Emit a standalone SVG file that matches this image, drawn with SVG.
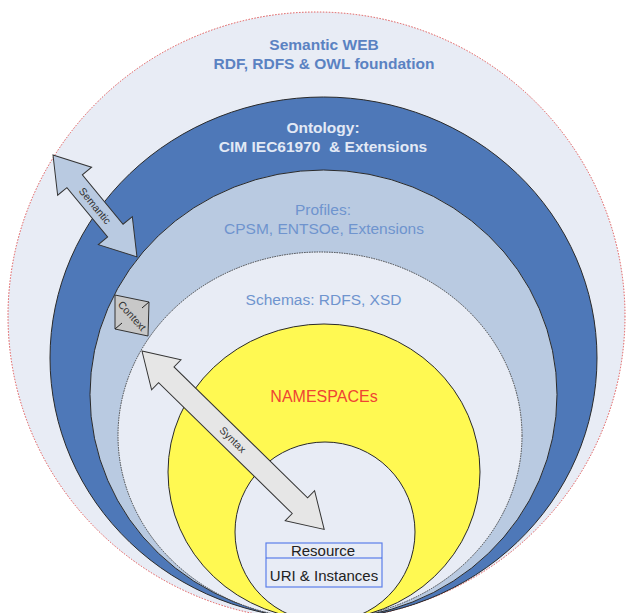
<svg xmlns="http://www.w3.org/2000/svg" width="626" height="613" viewBox="0 0 626 613">
<style>
.ring{stroke:#2a2a2a;stroke-width:1}
.t{font-family:"Liberation Sans",Arial,sans-serif;text-anchor:middle}
.title{font-size:15.5px;font-weight:bold;fill:#5A82C2}
.onto{font-size:15.5px;font-weight:bold;fill:#E2E9F5}
.prof{font-size:15.5px;fill:#6F94CE}
.ns{font-size:16px;fill:#EE4433}
.lbl{font-size:10.5px;fill:#333}
.box{font-size:15px;fill:#222}
.arrow{stroke:#333;stroke-width:1;stroke-linejoin:miter}
</style>
<rect width="626" height="613" fill="#ffffff"/>
<g id="semantic-web">
  <ellipse cx="316.5" cy="316" rx="308.5" ry="304" fill="#E8ECF5" stroke="#E05555" stroke-width="1" stroke-dasharray="1.5,1.5"/>
  <text class="t title" x="324" y="50">Semantic WEB</text>
  <text class="t title" x="324" y="69">RDF, RDFS &amp; OWL foundation</text>
</g>
<g id="ontology">
  <ellipse class="ring" cx="323.5" cy="358" rx="273.5" ry="261" fill="#4E78B8"/>
  <text class="t onto" x="323" y="133">Ontology:</text>
  <text class="t onto" x="323" y="152" style="white-space:pre">CIM IEC61970  &amp; Extensions</text>
</g>
<g id="profiles">
  <ellipse class="ring" cx="323.5" cy="394.5" rx="233.5" ry="224.5" fill="#B9CAE1"/>
  <text class="t prof" x="323" y="215">Profiles:</text>
  <text class="t prof" x="324" y="234">CPSM, ENTSOe, Extensions</text>
</g>
<g id="schemas">
  <ellipse cx="320" cy="435.5" rx="202" ry="183.5" fill="#E8ECF5" stroke="#444" stroke-width="1" stroke-dasharray="1.5,1"/>
  <text class="t prof" x="323.5" y="305">Schemas: RDFS, XSD</text>
</g>
<g id="namespaces">
  <ellipse class="ring" cx="324" cy="472" rx="156" ry="148" fill="#FFF952"/>
  <text class="t ns" x="324" y="402">NAMESPACEs</text>
</g>
<g id="resource">
  <ellipse class="ring" cx="325" cy="532" rx="90" ry="90" fill="#E8ECF5"/>
  <rect x="266" y="543" width="116" height="44" fill="#E8ECF5" stroke="#5B7FEA" stroke-width="1.2"/>
  <line x1="266" y1="558" x2="382" y2="558" stroke="#3D66E8" stroke-width="1.2"/>
  <text class="t box" x="323" y="556">Resource</text>
  <text class="t box" x="324" y="581">URI &amp; Instances</text>
</g>
<g id="connectors">
  <g id="semantic-arrow" transform="translate(53,155) rotate(50.5)">
    <polygon class="arrow" fill="#B9CAE1" points="0,0 34,-22 34,-10 98,-10 98,-22 132,0 98,22 98,10 34,10 34,22"/>
    <text class="t lbl" x="66" y="3.5">Semantic</text>
  </g>
  <g id="context">
    <polygon class="arrow" fill="#C8C8C8" points="115,295 149,302 148,336 115,329"/>
    <line x1="149" y1="302" x2="142" y2="308" stroke="#222" stroke-width="1"/>
    <line x1="115" y1="329" x2="122" y2="323" stroke="#222" stroke-width="1"/>
    <text class="t lbl" x="0" y="3.5" transform="translate(132,316) rotate(48)">Context</text>
  </g>
  <g id="syntax-arrow" transform="translate(142,351) rotate(44.4)">
    <polygon class="arrow" fill="#E6E6E6" points="0,0 34,-21 34,-11 221,-11 221,-21 255,0 221,21 221,11 34,11 34,21"/>
    <text class="t lbl" x="127" y="3.5">Syntax</text>
  </g>
</g>
</svg>
